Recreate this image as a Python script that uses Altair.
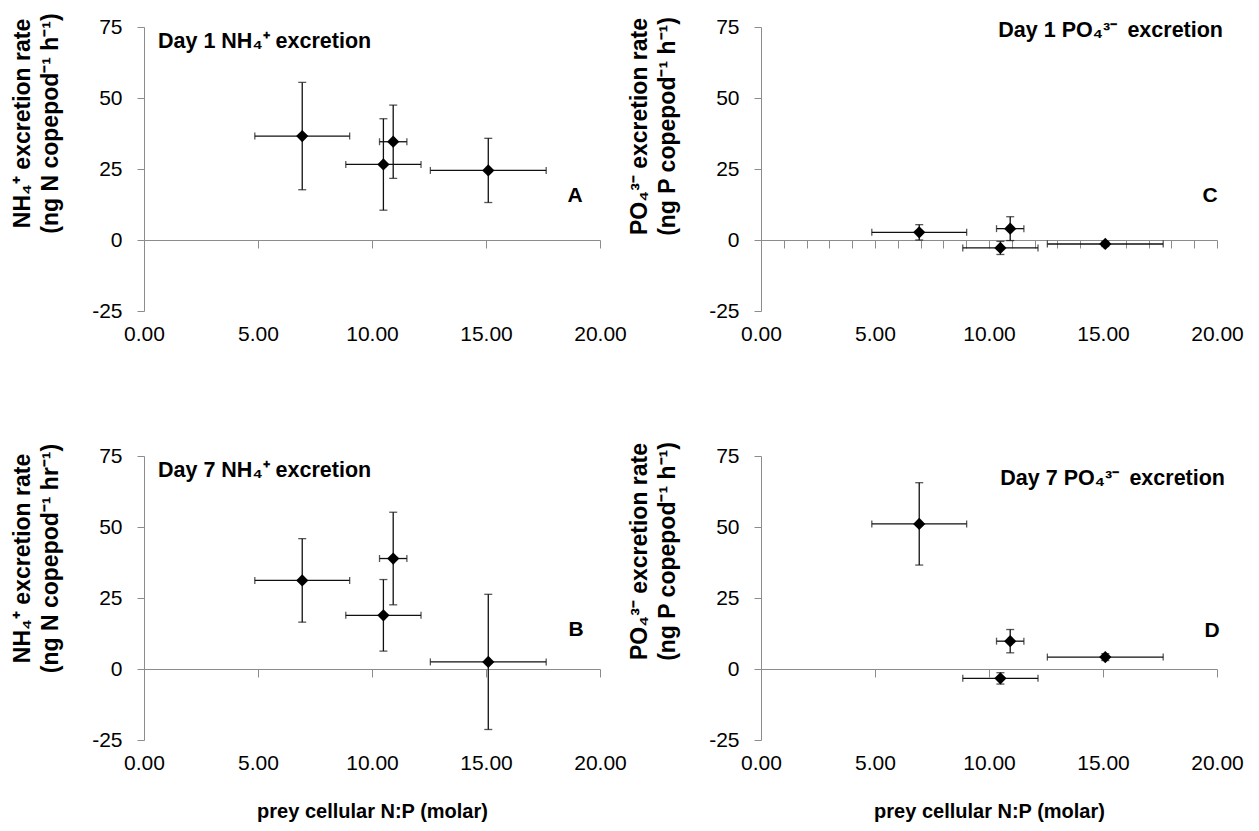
import altair as alt
import pandas as pd

# ---- data ----
x_np = [6.94, 10.50, 10.93, 15.10]          # prey cellular N:P (molar)
x_sd = [2.08, 1.65, 0.60, 2.54]

nh4_d1 = [36.6, 26.6, 34.6, 24.5]
nh4_d1_sd = [18.9, 16.1, 12.9, 11.3]
po4_d1 = [2.7, -2.8, 4.0, -1.4]
po4_d1_sd = [2.7, 2.3, 4.2, 0.9]
nh4_d7 = [31.2, 18.9, 38.9, 2.5]
nh4_d7_sd = [14.7, 12.6, 16.3, 23.8]
po4_d7 = [51.1, -3.3, 9.8, 4.2]
po4_d7_sd = [14.5, 2.0, 4.1, 1.2]

x_ticks = [0, 5, 10, 15, 20]
x_minor = list(range(0, 21))
y_ticks = [-25, 0, 25, 50, 75]

FONT = "Liberation Sans"
INK = "#111111"
AXC = "#8c8c8c"
W, H = 456, 284


def panel(yv, ysd, ytitle, head, letter, zero_vals, xtitle, lay):
    df = pd.DataFrame({"x": x_np, "xsd": x_sd, "y": yv, "ysd": ysd})
    df["xlo"] = df["x"] - df["xsd"]
    df["xhi"] = df["x"] + df["xsd"]
    df["ylo"] = df["y"] - df["ysd"]
    df["yhi"] = df["y"] + df["ysd"]
    base = alt.Chart(df)
    xs = alt.Scale(domain=[0, 20], nice=False, zero=False)
    ys = alt.Scale(domain=[-25, 75], nice=False)

    yaxis = alt.Axis(values=y_ticks, grid=False, domainColor=AXC, tickColor=AXC,
                     tickSize=7, labelFontSize=21, labelColor="#000", labelPadding=15,
                     labelFont=FONT, labelExpr="datum.value + ''",
                     title=ytitle, titleFont=FONT, titleFontSize=23, titleFontWeight="bold",
                     titleColor="#000", titleAngle=270, titleAlign="center",
                     titleBaseline="top", titleX=-133, titleY=lay["ty"], titleLineHeight=28)
    lab_kw = dict(orient="bottom", values=x_ticks, format=".2f", domain=False, ticks=False,
                  grid=False, labelFontSize=21, labelColor="#000", labelPadding=12,
                  labelFont=FONT, labelFlush=False, labelOverlap=False)
    if xtitle:
        lab_axis = alt.Axis(title=xtitle, titleFont=FONT, titleFontSize=20,
                            titleFontWeight="bold", titleColor="#000", titlePadding=28,
                            **lab_kw)
    else:
        lab_axis = alt.Axis(title=None, **lab_kw)
    zero_axis = alt.Axis(orient="bottom", values=zero_vals, offset=-H * 0.25, labels=False,
                         title=None, grid=False, domainColor=AXC, tickColor=AXC, tickSize=8)

    yenc = alt.Y("y:Q", scale=ys, axis=yaxis)
    hbar = base.mark_rule(color=INK, strokeWidth=1.3).encode(
        x=alt.X("xlo:Q", scale=xs, axis=zero_axis), x2="xhi:Q", y=yenc)
    vbar = base.mark_rule(color=INK, strokeWidth=1.3).encode(
        x=alt.X("x:Q", scale=xs, axis=None),
        y=alt.Y("ylo:Q", scale=ys, axis=yaxis), y2="yhi:Q")
    vcap_lo = base.mark_tick(orient="horizontal", size=8, thickness=1.3, color=INK).encode(
        x=alt.X("x:Q", scale=xs, axis=None), y=alt.Y("ylo:Q", scale=ys, axis=yaxis))
    vcap_hi = base.mark_tick(orient="horizontal", size=8, thickness=1.3, color=INK).encode(
        x=alt.X("x:Q", scale=xs, axis=None), y=alt.Y("yhi:Q", scale=ys, axis=yaxis))
    hcap_lo = base.mark_tick(orient="vertical", size=7, thickness=1.3, color=INK).encode(
        x=alt.X("xlo:Q", scale=xs, axis=None), y=yenc)
    hcap_hi = base.mark_tick(orient="vertical", size=7, thickness=1.3, color=INK).encode(
        x=alt.X("xhi:Q", scale=xs, axis=None), y=yenc)
    pts = base.mark_point(shape="diamond", filled=True, size=150, color="#000",
                          opacity=1).encode(
        x=alt.X("x:Q", scale=xs, axis=lab_axis), y=yenc)

    tdf = pd.DataFrame({"t": [head]})
    htext = alt.Chart(tdf).mark_text(font=FONT, fontSize=21.5, fontWeight="bold",
                                     color="#000", align=lay["ha"],
                                     baseline="alphabetic").encode(
        text="t:N", x=alt.value(lay["hx"]), y=alt.value(lay["hy"]))
    ldf = pd.DataFrame({"t": [letter]})
    ltext = alt.Chart(ldf).mark_text(font=FONT, fontSize=21, fontWeight="bold",
                                     color="#000", align="center",
                                     baseline="alphabetic").encode(
        text="t:N", x=alt.value(lay["lx"]), y=alt.value(lay["ly"]))

    return alt.layer(hbar, vbar, vcap_lo, vcap_hi, hcap_lo, hcap_hi, pts, htext, ltext
                     ).resolve_axis(x="independent").properties(width=W, height=H)


tN1 = ["NH\u2084\u207a excretion rate", "(ng N copepod\u207b\u00b9 h\u207b\u00b9)"]
tN7 = ["NH\u2084\u207a excretion rate", "(ng N copepod\u207b\u00b9 hr\u207b\u00b9)"]
tP = ["PO\u2084\u00b3\u207b excretion rate", "(ng P copepod\u207b\u00b9 h\u207b\u00b9)"]

pA = panel(nh4_d1, nh4_d1_sd, tN1, "Day 1 NH\u2084\u207a excretion", "A", x_ticks, None,
           dict(ty=96, ha="left", hx=14, hy=21, lx=431, ly=175))
pC = panel(po4_d1, po4_d1_sd, tP, "Day 1 PO\u2084\u00b3\u207b\u2009 excretion", "C", x_minor,
           None, dict(ty=99, ha="right", hx=462, hy=10, lx=449, ly=175))
pB = panel(nh4_d7, nh4_d7_sd, tN7, "Day 7 NH\u2084\u207a excretion", "B", x_ticks,
           "prey cellular N:P (molar)",
           dict(ty=102, ha="left", hx=14, hy=21, lx=432, ly=180))
pD = panel(po4_d7, po4_d7_sd, tP, "Day 7 PO\u2084\u00b3\u207b\u2009 excretion", "D", x_ticks,
           "prey cellular N:P (molar)",
           dict(ty=95, ha="right", hx=464, hy=29, lx=451, ly=181))

top = alt.hconcat(pA, pC, spacing=0)
bottom = alt.hconcat(pB, pD, spacing=0)
chart = alt.vconcat(top, bottom, spacing=97).properties(
    padding={"top": 4, "left": 2, "right": 5, "bottom": 5},
    background="white",
).configure_view(stroke=None)

chart.save("out.html", embed_options={"renderer": "svg", "actions": False})
